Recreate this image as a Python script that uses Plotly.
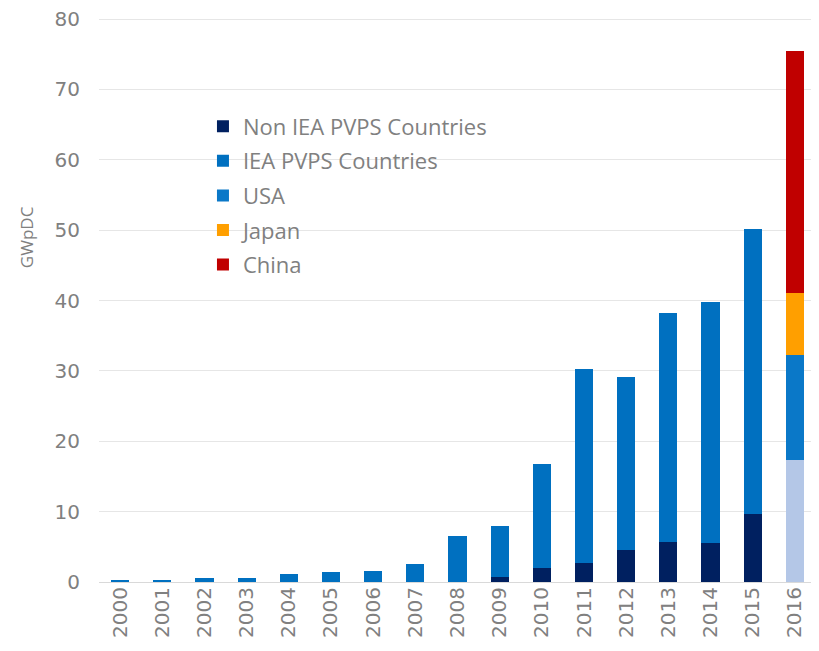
import plotly.graph_objects as go

years = [str(y) for y in range(2000, 2017)]
non_iea = [0, 0, 0, 0, 0, 0, 0, 0, 0, 0.7, 2.0, 2.7, 4.6, 5.7, 5.5, 9.6, 0]
iea = [0.2, 0.3, 0.5, 0.6, 1.1, 1.4, 1.6, 2.5, 6.5, 7.3, 14.7, 27.6, 24.6, 32.5, 34.3, 40.5, 0]
other_2016 = [0] * 16 + [17.3]
usa = [0] * 16 + [14.9]
japan = [0] * 16 + [8.8]
china = [0] * 16 + [34.5]

fig = go.Figure()
series = [
    ("Non IEA PVPS Countries", non_iea, "#002060", True),
    ("Other", other_2016, "#b4c7e7", False),
    ("IEA PVPS Countries", iea, "#0070c0", True),
    ("USA", usa, "#0a78c8", True),
    ("Japan", japan, "#ff9f00", True),
    ("China", china, "#c00000", True),
]
for i, (name, vals, col, show) in enumerate(series):
    fig.add_trace(go.Bar(x=years, y=vals, name=name, marker_color=col,
                         marker_line_width=0, showlegend=show,
                         legendgroup="g%d" % i))

fig.update_layout(
    barmode="stack",
    bargap=0.57,
    width=811, height=643,
    margin=dict(l=91, r=3, t=10, b=69, autoexpand=False),
    plot_bgcolor="white", paper_bgcolor="white",
    font=dict(family="DejaVu Sans", color="#808080", size=20),
    legend=dict(x=0.145, y=0.845, xanchor="left", yanchor="top",
                traceorder="grouped", tracegroupgap=3,
                font=dict(family="Open Sans", size=22, color="#808080"),
                bgcolor="rgba(0,0,0,0)", itemwidth=30),
    xaxis=dict(type="category", tickangle=-90, showgrid=False,
               showline=False, ticks="", tickfont=dict(size=20),
               automargin=False),
    yaxis=dict(range=[0, 80.15], dtick=10, showgrid=True, gridcolor="#e6e6e6",
               zeroline=True, zerolinecolor="#d9d9d9", zerolinewidth=1,
               showline=False, ticks="", tickfont=dict(size=20),
               ticklabelstandoff=18, ticklabeloverflow="allow",
               automargin=False),
    annotations=[dict(text="GWpDC", textangle=-90, x=-0.1, y=0.612,
                      xref="paper", yref="paper", showarrow=False,
                      xanchor="center", yanchor="middle",
                      font=dict(family="Open Sans", size=17, color="#808080"))],
)

fig.write_html("out.html")
